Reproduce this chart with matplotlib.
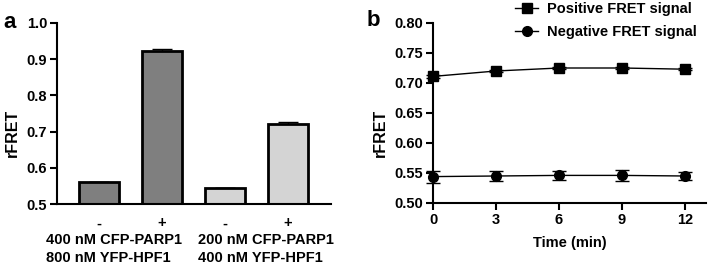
import matplotlib
matplotlib.use("Agg")
from matplotlib import pyplot as plt
import numpy as np

plt.rcParams['font.family'] = ['Liberation Sans', 'DejaVu Sans']
plt.rcParams['font.weight'] = 'bold'
plt.rcParams['axes.labelweight'] = 'bold'

# panel a data
bar_signs = ['-', '+', '-', '+']
bar_values = [0.560, 0.923, 0.543, 0.720]
bar_errors = [0.002, 0.005, 0.002, 0.006]
bar_colors = ['#7f7f7f', '#7f7f7f', '#d4d4d4', '#d4d4d4']
group_line1 = ['400 nM CFP-PARP1', '200 nM CFP-PARP1']
group_line2 = ['800 nM YFP-HPF1', '400 nM YFP-HPF1']

# panel b data
time_min = [0, 3, 6, 9, 12]
positive = [0.711, 0.720, 0.725, 0.725, 0.723]
positive_err = [0.002, 0.002, 0.002, 0.002, 0.002]
negative = [0.544, 0.545, 0.546, 0.546, 0.545]
negative_err = [0.010, 0.008, 0.008, 0.009, 0.007]

fs = 10.5
W, H = 708, 265
fig = plt.figure(figsize=(W / 100, H / 100), dpi=100)


def px_axes(x0, y0, x1, y1):
    # pixel box (top-left origin) -> figure axes
    return fig.add_axes([x0 / W, 1 - y1 / H, (x1 - x0) / W, (y1 - y0) / H])


def px_text(x, y, s, **kw):
    return fig.text(x / W, 1 - y / H, s, **kw)


# ---- panel a ----
ax = px_axes(57, 23, 331, 204)
xs = np.arange(len(bar_values))
ax.bar(xs, bar_values, width=0.63, color=bar_colors, edgecolor='black',
       linewidth=2, zorder=2)
ax.errorbar(xs, bar_values, yerr=[[0] * 4, bar_errors], fmt='none',
            ecolor='black', elinewidth=1, capsize=7, capthick=1, zorder=1)
ax.set_xlim(-0.667, 3.68)
ax.set_ylim(0.5, 1.0)
ax.set_yticks([0.5, 0.6, 0.7, 0.8, 0.9, 1.0])
ax.set_yticklabels(['0.5', '0.6', '0.7', '0.8', '0.9', '1.0'])
ax.set_xticks(xs)
ax.set_xticklabels(bar_signs, fontsize=fs, fontweight='bold')
ax.tick_params(axis='x', length=0, pad=9)
ax.tick_params(axis='y', labelsize=fs, width=1.5, length=5, pad=2)
for s in ['top', 'right']:
    ax.spines[s].set_visible(False)
for s in ['left', 'bottom']:
    ax.spines[s].set_linewidth(1.5)
ax.set_ylabel('rFRET', fontsize=fs + 1, fontweight='bold')
ax.yaxis.set_label_coords(20 / W, 0.5, transform=fig.transFigure)
for gx, l1, l2 in zip([46, 198], group_line1, group_line2):
    px_text(gx, 240, l1, ha='left', va='center', fontsize=fs,
            fontweight='bold')
    px_text(gx, 257.5, l2, ha='left', va='center', fontsize=fs,
            fontweight='bold')
px_text(3, 22, 'a', fontsize=16, fontweight='bold', ha='left', va='center')

# ---- panel b ----
bx = px_axes(433, 23, 706, 203)
bx.errorbar(time_min, positive, yerr=positive_err, fmt='none', ecolor='black',
            capsize=5, elinewidth=1)
bx.errorbar(time_min, negative, yerr=negative_err, fmt='none', ecolor='black',
            capsize=5, elinewidth=1)
bx.plot(time_min, positive, color='black', marker='s', markersize=7, lw=1,
        label='Positive FRET signal')
bx.plot(time_min, negative, color='black', marker='o', markersize=7, lw=1,
        label='Negative FRET signal')
bx.set_xlim(0, 13)
bx.set_ylim(0.5, 0.8)
bx.set_xticks(time_min)
bx.set_yticks([0.50, 0.55, 0.60, 0.65, 0.70, 0.75, 0.80])
bx.set_yticklabels(['0.50', '0.55', '0.60', '0.65', '0.70', '0.75', '0.80'])
bx.tick_params(labelsize=fs, width=1.5, length=5, pad=2)
for s in ['top', 'right']:
    bx.spines[s].set_visible(False)
for s in ['left', 'bottom']:
    bx.spines[s].set_linewidth(1.5)
bx.set_ylabel('rFRET', fontsize=fs + 1, fontweight='bold')
bx.yaxis.set_label_coords(388 / W, 0.5, transform=fig.transFigure)
bx.set_xlabel('Time (min)', fontsize=fs, fontweight='bold', labelpad=7)
for c in bx.get_children():
    c.set_clip_on(False)
fig.legend(loc='upper left', bbox_to_anchor=(509 / W, 1.015), frameon=False,
           prop={'size': fs, 'weight': 'bold'}, borderaxespad=0,
           handlelength=1.6, handletextpad=0.6, labelspacing=0.65)
px_text(367, 20, 'b', fontsize=16, fontweight='bold', ha='left', va='center')

fig.savefig('out.png', dpi=100)
